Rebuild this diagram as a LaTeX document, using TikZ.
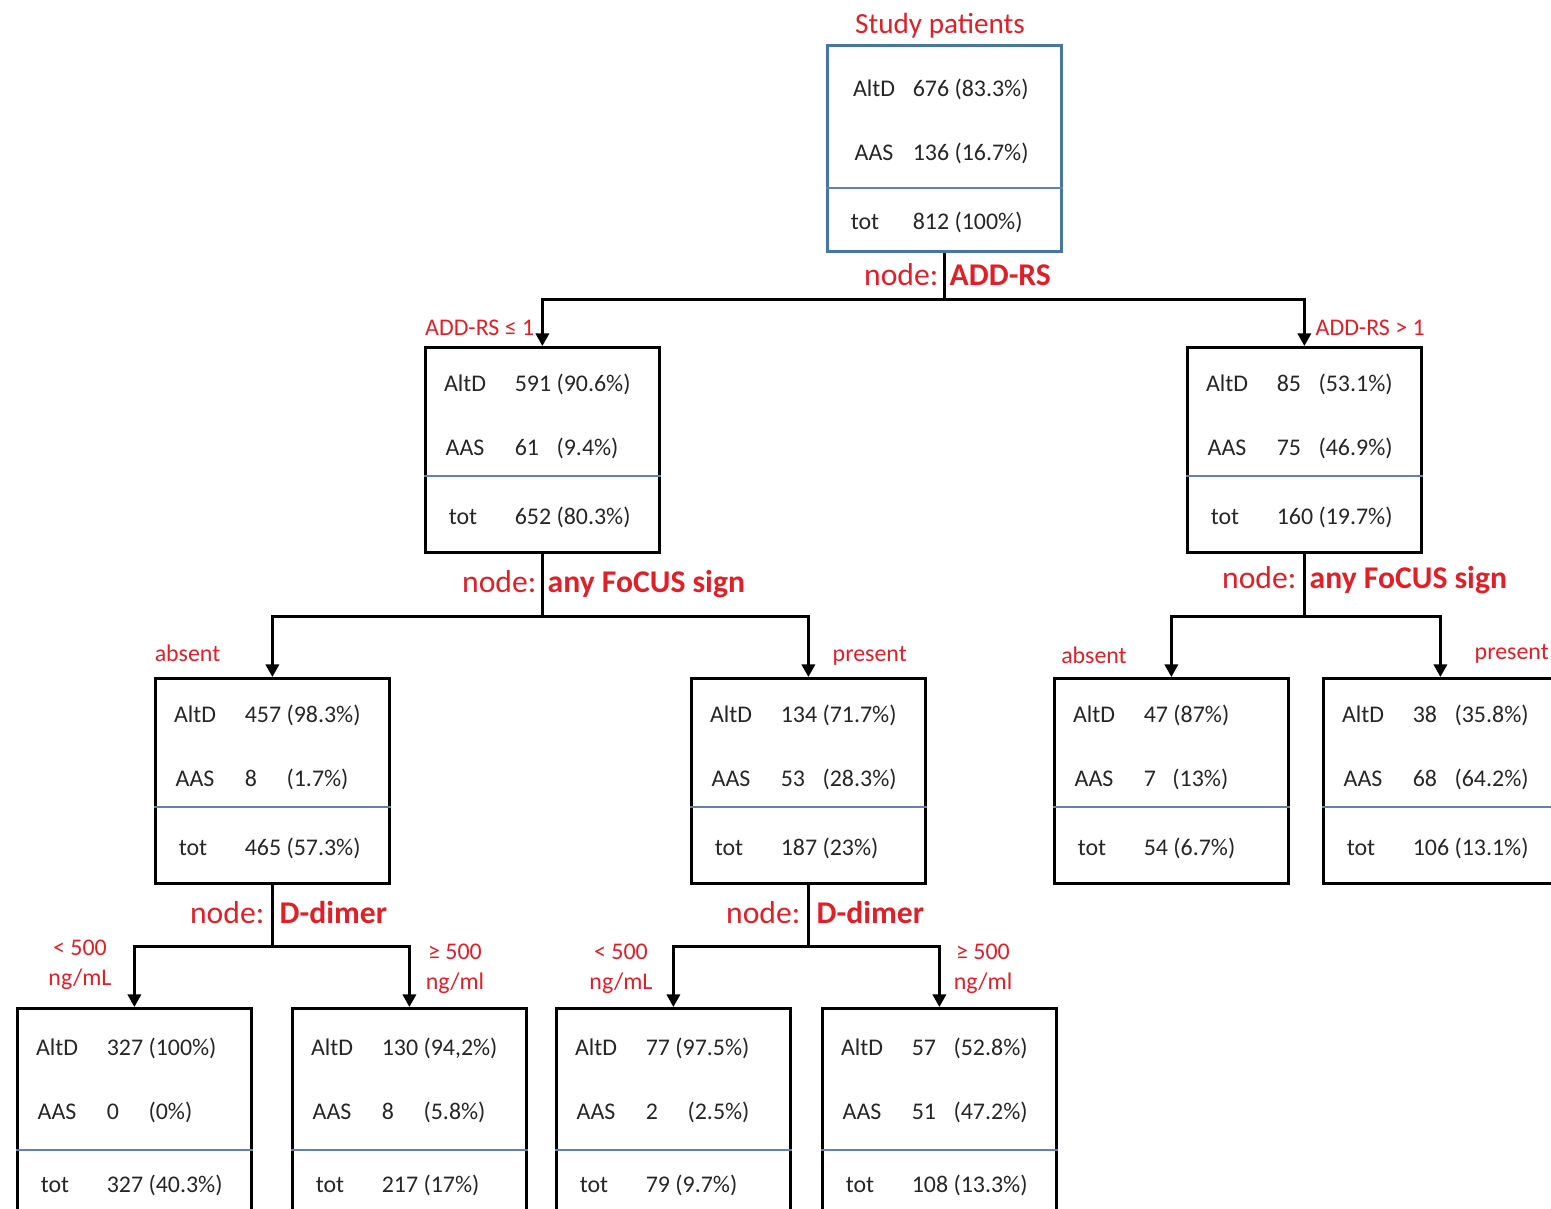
\documentclass[tikz,border=0pt]{standalone}
\usepackage{fontspec}
\setmainfont{Carlito}
\usetikzlibrary{arrows.meta}
\definecolor{lblred}{RGB}{226,30,38}
\definecolor{topblue}{RGB}{68,118,168}
\definecolor{divblue}{RGB}{96,128,186}
\newcommand{\nm}[1]{\makebox[1.75em][l]{#1}}
% box with two counts, a blue rule and the total
\newcommand{\splitbox}[6]{%
  \node[cellbox,#6] (#1) at (#2) {};
  \draw[divline] ([yshift=-\divrow]#1.north west) -- ([yshift=-\divrow]#1.north east);
  \node[celltxt,anchor=base] (#1-a) at ([xshift=\labx,yshift=-\rowone]#1.north west) {AltD};
  \node[celltxt,anchor=base west] (#1-av) at ([xshift=\valx,yshift=-\rowone]#1.north west) {#3};
  \node[celltxt,anchor=base] (#1-b) at ([xshift=\labx,yshift=-\rowtwo]#1.north west) {AAS};
  \node[celltxt,anchor=base west] (#1-bv) at ([xshift=\valx,yshift=-\rowtwo]#1.north west) {#4};
  \node[celltxt,anchor=base] (#1-t) at ([xshift=0.39cm,yshift=-\rowtot]#1.north west) {tot};
  \node[celltxt,anchor=base west] (#1-tv) at ([xshift=\valx,yshift=-\rowtot]#1.north west) {#5};
}

\begin{document}
\begin{tikzpicture}[x=0.01cm,y=-0.01cm,
    cellbox/.style={draw,line width=0.75pt,minimum width=2.34cm,minimum height=2.05cm,inner sep=0pt,anchor=north west},
    divline/.style={draw=divblue,line width=0.6pt},
    celltxt/.style={inner sep=0pt,text=black!85,font=\fontsize{6.8}{8}\selectfont},
    link/.style={line width=0.75pt},
    arrow/.style={link,-{Triangle[width=3.8pt,length=3.6pt]}},
    nodelbl/.style={inner sep=0pt,text=lblred,font=\fontsize{9}{11}\selectfont},
    splitlbl/.style={nodelbl,font=\fontsize{9}{11}\selectfont\bfseries},
    branchlbl/.style={inner sep=0pt,text=lblred,font=\fontsize{6.8}{8.5}\selectfont,align=center}]
\clip (0,0) rectangle (1551,1209);

% top of the tree
\def\rowone{0.52cm}\def\rowtwo{1.16cm}\def\divrow{1.44cm}\def\rowtot{1.85cm}
\def\labx{0.48cm}\def\valx{0.86cm}
\node[nodelbl,anchor=base,font=\fontsize{8.3}{10}\selectfont] (title) at (940,33) {Study patients};
\splitbox{a0}{826,44}{676 (83.3\%)}{136 (16.7\%)}{812 (100\%)}{draw=topblue,minimum height=2.06cm}

% first split
\def\rowone{0.45cm}\def\rowtwo{1.09cm}\def\divrow{1.30cm}\def\rowtot{1.78cm}
\def\labx{0.41cm}\def\valx{0.90cm}
\splitbox{b1}{424,346}{591 (90.6\%)}{\nm{61}(9.4\%)}{652 (80.3\%)}{}
\splitbox{b2}{1186,346}{\nm{85}(53.1\%)}{\nm{75}(46.9\%)}{160 (19.7\%)}{}

% second split
\splitbox{c1}{154,677}{457 (98.3\%)}{\nm{8}(1.7\%)}{465 (57.3\%)}{}
\splitbox{c2}{690,677}{134 (71.7\%)}{\nm{53}(28.3\%)}{187 (23\%)}{}
\splitbox{c3}{1053,677}{47 (87\%)}{\makebox[1.2em][l]{7}(13\%)}{54 (6.7\%)}{}
\splitbox{c4}{1322,677}{\nm{38}(35.8\%)}{\nm{68}(64.2\%)}{106 (13.1\%)}{}

% third split
\def\rowone{0.48cm}\def\rowtwo{1.12cm}\def\divrow{1.43cm}\def\rowtot{1.85cm}
\splitbox{d1}{16,1007}{327 (100\%)}{\nm{0}(0\%)}{327 (40.3\%)}{}
\splitbox{d2}{291,1007}{130 (94,2\%)}{\nm{8}(5.8\%)}{217 (17\%)}{}
\splitbox{d3}{555,1007}{77 (97.5\%)}{\nm{2}(2.5\%)}{79 (9.7\%)}{}
\splitbox{d4}{821,1007}{\nm{57}(52.8\%)}{\nm{51}(47.2\%)}{108 (13.3\%)}{}

% connectors
\draw[link] (a0.south) -- ++(0,47) coordinate (ja);
\draw[arrow] (ja) -| (b1.north);
\draw[arrow] (ja) -| (b2.north);
\draw[link] (b1.south) -- ++(0,63) coordinate (jb);
\draw[arrow] (jb) -| (c1.north);
\draw[arrow] (jb) -| (c2.north);
\draw[link] (b2.south) -- ++(0,63) coordinate (jc);
\draw[arrow] (jc) -| (c3.north);
\draw[arrow] (jc) -| (c4.north);
\draw[link] (c1.south) -- ++(0,62) coordinate (jd);
\draw[arrow] (jd) -| (d1.north);
\draw[arrow] (jd) -| (d2.north);
\draw[link] (c2.south) -- ++(0,62) coordinate (je);
\draw[arrow] (je) -| (d3.north);
\draw[arrow] (je) -| (d4.north);

% split labels
\node[nodelbl,anchor=base east] (na) at (939,285) {node:};
\node[splitlbl,anchor=base west] (sa) at (949,285) {ADD-RS};
\node[nodelbl,anchor=base east] (nb) at (537,592) {node:};
\node[splitlbl,anchor=base west] (sb) at (547,592) {any FoCUS sign};
\node[nodelbl,anchor=base east] (nc) at (1297,588) {node:};
\node[splitlbl,anchor=base west] (sc) at (1309,588) {any FoCUS sign};
\node[nodelbl,anchor=base east] (nd) at (265,923) {node:};
\node[splitlbl,anchor=base west] (sd) at (279,923) {D-dimer};
\node[nodelbl,anchor=base east] (ne) at (801,923) {node:};
\node[splitlbl,anchor=base west] (se) at (816,923) {D-dimer};

% branch labels
\node[branchlbl,anchor=base east] (lb1) at (535,335) {ADD-RS ≤ 1};
\node[branchlbl,anchor=base west] (lb2) at (1315,335) {ADD-RS > 1};
\node[branchlbl,anchor=base east] (lc1) at (221,661) {absent};
\node[branchlbl,anchor=base west] (lc2) at (832,661) {present};
\node[branchlbl,anchor=base] (lc3) at (1094,663) {absent};
\node[branchlbl,anchor=base west] (lc4) at (1474,659) {present};
\node[branchlbl] (ld1) at (80,965) {< 500\\ng/mL};
\node[branchlbl] (ld2) at (455,969) {≥ 500\\ng/ml};
\node[branchlbl] (ld3) at (621,969) {< 500\\ng/mL};
\node[branchlbl] (ld4) at (983,969) {≥ 500\\ng/ml};
\end{tikzpicture}
\end{document}
